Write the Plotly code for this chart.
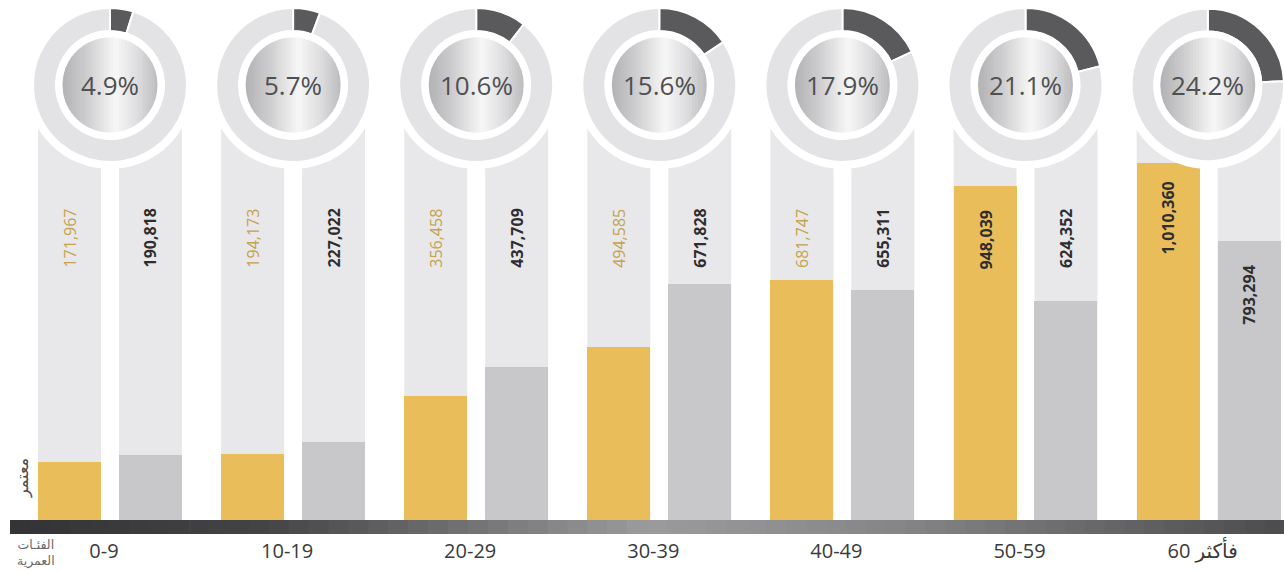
import plotly.graph_objects as go

W, H = 1284, 571

# ---------------- data ----------------
age_groups = ["0-9", "10-19", "20-29", "30-39", "40-49", "50-59", "60 فأكثر"]
umrah_values = [171967, 194173, 356458, 494585, 681747, 948039, 1010360]
second_values = [190818, 227022, 437709, 671828, 655311, 624352, 793294]
share_pct = [4.9, 5.7, 10.6, 15.6, 17.9, 21.1, 24.2]
legend_label = "معتمر"
axis_title = "الفئـات<br>العمرية"

# ---------------- geometry / style ----------------
GROUP_X0, GROUP_STEP = 110.0, 183.1          # px of first group centre, px per group
BASE_PX, PX_PER_UNIT = 523.0, 0.356 / 1000   # y px of zero, px per unit value
BAR_W, GOLD_OFF, SILV_OFF = 0.344, -0.393, 0.049

GOLD = "#e8bd5a"
SILVER = "#c8c8cb"
TRACK = "#e8e8ea"
RING = "#e3e3e5"
WEDGE = "#5a5a5c"
FONT = "Open Sans, DejaVu Sans, sans-serif"


def fx(px):
    return px / W


def fy(py):
    return 1 - py / H


def hex2rgb(h):
    h = h.lstrip("#")
    return tuple(int(h[i:i + 2], 16) for i in (0, 2, 4))


def grad(stops, t):
    for (t0, c0), (t1, c1) in zip(stops, stops[1:]):
        if t <= t1:
            u = 0 if t1 == t0 else (t - t0) / (t1 - t0)
            a, b = hex2rgb(c0), hex2rgb(c1)
            return "rgb(%d,%d,%d)" % tuple(round(a[k] + (b[k] - a[k]) * u) for k in range(3))
    return "rgb(%d,%d,%d)" % hex2rgb(stops[-1][1])


x_range = [(0 - GROUP_X0) / GROUP_STEP, (W - GROUP_X0) / GROUP_STEP]
y_range = [-(H - BASE_PX) / PX_PER_UNIT, BASE_PX / PX_PER_UNIT]
idx = list(range(len(age_groups)))

fig = go.Figure()
shapes = []
annotations = []

# background tracks behind the bars
for i in idx:
    for off in (GOLD_OFF, SILV_OFF):
        shapes.append(dict(type="rect", layer="below", xref="x", yref="paper",
                           x0=i + off, x1=i + off + BAR_W, y0=fy(534), y1=fy(120),
                           fillcolor=TRACK, line=dict(width=0)))

fig.add_trace(go.Bar(x=idx, y=umrah_values, name=legend_label, width=BAR_W, offset=GOLD_OFF,
                     marker=dict(color=GOLD, line=dict(width=0)), hoverinfo="x+y"))
fig.add_trace(go.Bar(x=idx, y=second_values, name="", width=BAR_W, offset=SILV_OFF,
                     marker=dict(color=SILVER, line=dict(width=0)), hoverinfo="x+y"))

# value labels
level_v = (BASE_PX - 238) / PX_PER_UNIT
thresh_v = (BASE_PX - 271) / PX_PER_UNIT
inside_off_v = 55 / PX_PER_UNIT
for series, off, is_gold in ((umrah_values, GOLD_OFF, True), (second_values, SILV_OFF, False)):
    for i, v in zip(idx, series):
        inside = v > thresh_v
        yv = v - inside_off_v if inside else level_v
        if is_gold and not inside:
            font = dict(family=FONT, size=16, color="#c4a24e")
        else:
            font = dict(family=FONT, size=16, color="#2e2e30", weight=700)
        annotations.append(dict(x=i + off + BAR_W / 2, y=yv, xref="x", yref="y",
                                text=f"{v:,}", textangle=-90, showarrow=False,
                                xanchor="center", yanchor="middle", font=font))

# donuts
CY, R_RING, R_HOLE, R_INNER = 85.0, 77.0, 54.0, 47.5
inner_stops = [(0.0, "#b2b2b4"), (0.25, "#cdcdcf"), (0.56, "#f7f7f7"),
               (0.8, "#dcdcde"), (1.0, "#bcbcbe")]
for i, pct in zip(idx, share_pct):
    cx = GROUP_X0 + GROUP_STEP * i
    dx0, dx1 = max(0.0, fx(cx - R_RING)), min(1.0, fx(cx + R_RING))
    dy0, dy1 = fy(CY + R_RING), fy(CY - R_RING)
    fig.add_trace(go.Pie(values=[pct, 100 - pct], sort=False, direction="clockwise", rotation=0,
                         hole=R_HOLE / R_RING, textinfo="none", hoverinfo="skip",
                         marker=dict(colors=[WEDGE, RING], line=dict(color="white", width=2)),
                         domain=dict(x=[dx0, dx1], y=[dy0, dy1]), showlegend=False))
    ccx = (dx0 + dx1) / 2 * W  # actual centre after clamping
    # white border around the ring
    rb = R_RING + 3.5
    shapes.append(dict(type="circle", layer="above", xref="paper", yref="paper",
                       x0=fx(ccx - rb), x1=fx(ccx + rb), y0=fy(CY + rb), y1=fy(CY - rb),
                       fillcolor="rgba(0,0,0,0)", line=dict(color="white", width=7)))
    # white hole cover
    rh = R_HOLE + 0.5
    shapes.append(dict(type="circle", layer="above", xref="paper", yref="paper",
                       x0=fx(ccx - rh), x1=fx(ccx + rh), y0=fy(CY + rh), y1=fy(CY - rh),
                       fillcolor="white", line=dict(width=0)))
    # inner metallic disc built from vertical strips
    N = 32
    for s in range(N):
        xa = -R_INNER + 2 * R_INNER * s / N
        xb = min(R_INNER, -R_INNER + 2 * R_INNER * (s + 1) / N + 0.8)
        pts_top, pts_bot = [], []
        K = 6
        for k in range(K + 1):
            xx = xa + (xb - xa) * k / K
            hh = max(0.0, R_INNER ** 2 - xx ** 2) ** 0.5
            pts_top.append((ccx + xx, CY - hh))
            pts_bot.append((ccx + xx, CY + hh))
        pts = pts_top + pts_bot[::-1]
        path = "M " + " L ".join(f"{fx(px):.6f},{fy(py):.6f}" for px, py in pts) + " Z"
        shapes.append(dict(type="path", layer="above", xref="paper", yref="paper", path=path,
                           fillcolor=grad(inner_stops, (s + 0.5) / N), line=dict(width=0)))
    annotations.append(dict(x=fx(ccx), y=fy(CY), xref="paper", yref="paper", text=f"{pct}%",
                            showarrow=False, xanchor="center", yanchor="middle",
                            font=dict(family=FONT, size=26, color="#505052")))

# dark base band with gradient
band_stops = [(0.0, "#333335"), (0.2, "#444446"), (0.5, "#9b9b9d"), (0.7, "#858587"), (1.0, "#4c4c4e")]
NB = 64
bx0, bx1 = 10.0, W
for s in range(NB):
    xa = bx0 + (bx1 - bx0) * s / NB
    xb = bx0 + (bx1 - bx0) * (s + 1) / NB + 0.7
    shapes.append(dict(type="rect", layer="above", xref="paper", yref="paper",
                       x0=fx(xa), x1=fx(min(xb, W)), y0=fy(534), y1=fy(520),
                       fillcolor=grad(band_stops, (s + 0.5) / NB), line=dict(width=0)))

annotations.append(dict(x=fx(22), y=fy(478), xref="paper", yref="paper", text=legend_label,
                        textangle=-90, showarrow=False, xanchor="center", yanchor="middle",
                        font=dict(family=FONT, size=16, color="#4a4a4a")))
annotations.append(dict(x=fx(36), y=fy(552), xref="paper", yref="paper", text=axis_title,
                        showarrow=False, xanchor="center", yanchor="middle", align="center",
                        font=dict(family=FONT, size=12.5, color="#6a6a6a")))

fig.update_layout(
    width=W, height=H, margin=dict(l=0, r=0, t=0, b=0, pad=0),
    paper_bgcolor="white", plot_bgcolor="white", showlegend=False,
    barmode="overlay", bargap=0,
    xaxis=dict(range=x_range, domain=[0, 1], anchor="free", position=fy(537),
               tickvals=idx, ticktext=age_groups, ticks="",
               ticklabelshift=-6,
               tickfont=dict(family=FONT, size=20, color="#3a3a3a"),
               showgrid=False, zeroline=False, showline=False, fixedrange=True),
    yaxis=dict(range=y_range, domain=[0, 1], visible=False, showgrid=False,
               zeroline=False, fixedrange=True),
    shapes=shapes, annotations=annotations,
)

fig.write_html("out.html", config={"displayModeBar": False},
               post_script="document.body.style.margin='0';document.body.style.overflow='hidden';")
